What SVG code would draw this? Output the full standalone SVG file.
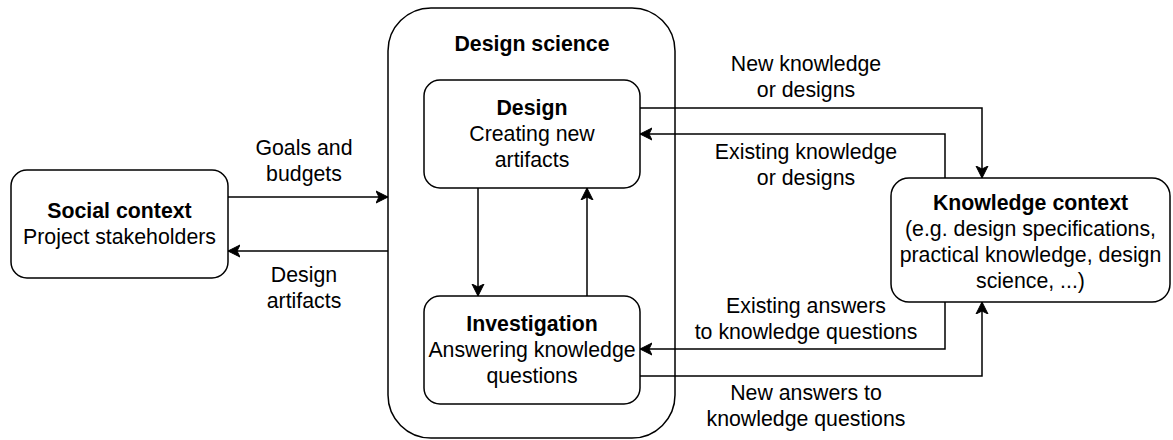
<svg xmlns="http://www.w3.org/2000/svg" width="1173" height="440" viewBox="0 0 1173 440">
<style>
.box{fill:#fff;stroke:#000;stroke-width:1.5}
.t{font-family:"Liberation Sans",Arial,Helvetica,sans-serif;font-size:21.3px;fill:#000;text-anchor:middle}
.b{font-weight:bold}
.c{fill:none;stroke:#000;stroke-width:1.5}
</style>
<defs>
<marker id="ah" markerUnits="userSpaceOnUse" markerWidth="14" markerHeight="14" refX="12" refY="7" orient="auto">
<path d="M0,1 L12,7 L0,13 L3,7 Z" fill="#000" stroke="#000" stroke-width="1"/>
</marker>
</defs>
<rect width="1173" height="440" fill="#fff"/>
<g id="design-science">
<rect class="box" x="388" y="8" width="287" height="430" rx="43" ry="43"/>
<text class="t b" x="532" y="51">Design science</text>
</g>
<g id="social-context">
<rect class="box" x="11" y="170" width="217" height="108" rx="16" ry="16"/>
<text class="t b" x="119.5" y="218">Social context</text>
<text class="t" x="119.5" y="244">Project stakeholders</text>
</g>
<g id="design">
<rect class="box" x="424" y="80" width="216" height="108" rx="16" ry="16"/>
<text class="t b" x="532" y="115">Design</text>
<text class="t" x="532" y="141">Creating new</text>
<text class="t" x="532" y="167">artifacts</text>
</g>
<g id="investigation">
<rect class="box" x="424" y="296" width="216" height="108" rx="16" ry="16"/>
<text class="t b" x="532" y="331">Investigation</text>
<text class="t" x="532" y="357">Answering knowledge</text>
<text class="t" x="532" y="383">questions</text>
</g>
<g id="knowledge-context">
<rect class="box" x="891" y="178" width="279" height="124" rx="18" ry="18"/>
<text class="t b" x="1030.5" y="210">Knowledge context</text>
<text class="t" x="1030.5" y="236">(e.g. design specifications,</text>
<text class="t" x="1030.5" y="262">practical knowledge, design</text>
<text class="t" x="1030.5" y="288">science, ...)</text>
</g>
<g id="connectors">
<path class="c" d="M228,197 L388,197" marker-end="url(#ah)"/>
<path class="c" d="M388,251 L228,251" marker-end="url(#ah)"/>
<path class="c" d="M478,188 L478,296" marker-end="url(#ah)"/>
<path class="c" d="M587,296 L587,188" marker-end="url(#ah)"/>
<path class="c" d="M640,108 L982,108 L982,178" marker-end="url(#ah)"/>
<path class="c" d="M945,178 L945,134 L640,134" marker-end="url(#ah)"/>
<path class="c" d="M945,302 L945,349 L640,349" marker-end="url(#ah)"/>
<path class="c" d="M640,376 L982,376 L982,302" marker-end="url(#ah)"/>
</g>
<g id="labels">
<text class="t" x="304" y="155">Goals and</text>
<text class="t" x="304" y="181">budgets</text>
<text class="t" x="304" y="282">Design</text>
<text class="t" x="304" y="308">artifacts</text>
<text class="t" x="806" y="71">New knowledge</text>
<text class="t" x="806" y="97">or designs</text>
<text class="t" x="806" y="159">Existing knowledge</text>
<text class="t" x="806" y="185">or designs</text>
<text class="t" x="806" y="313">Existing answers</text>
<text class="t" x="806" y="339">to knowledge questions</text>
<text class="t" x="806" y="400">New answers to</text>
<text class="t" x="806" y="426">knowledge questions</text>
</g>
</svg>
